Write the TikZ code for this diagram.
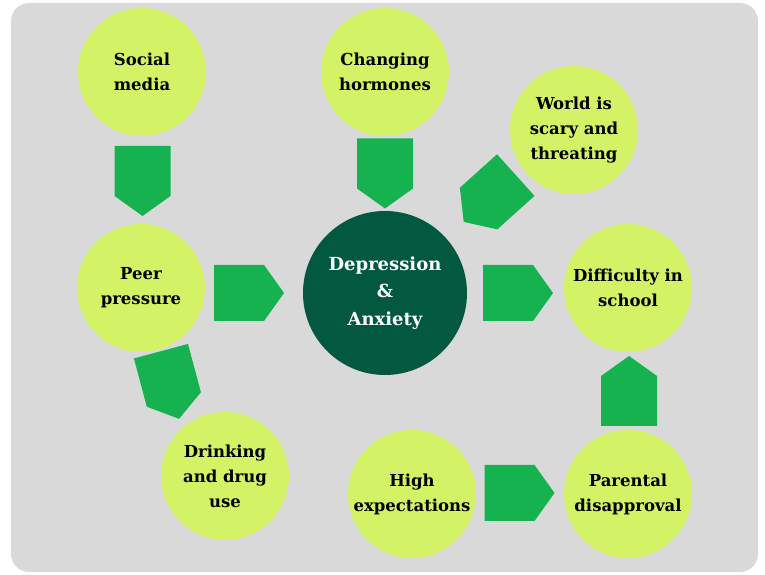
\documentclass[tikz,border=0pt]{standalone}
\usepackage{fontspec}
\setmainfont{DejaVu Serif}

\definecolor{bggray}{RGB}{217,217,217}
\definecolor{limegreen}{RGB}{212,242,102}
\definecolor{arrowgreen}{RGB}{22,178,80}
\definecolor{darkgreen}{RGB}{2,89,64}

\tikzset{
  bubble/.style={circle, fill=limegreen, minimum size=128pt, inner sep=0pt,
    align=center, font=\bfseries\fontsize{16.5}{25}\selectfont},
  core/.style={circle, fill=darkgreen, text=white, minimum size=164pt, inner sep=0pt,
    align=center, font=\bfseries\fontsize{18}{27.5}\selectfont},
  blockarrow/.pic={\fill[arrowgreen] (-35,-28) -- (15,-28) -- (35,0) -- (15,28) -- (-35,28) -- cycle;}
}

\begin{document}
\begin{tikzpicture}[x=1pt,y=1pt]
    % Draw Background Panel
    \useasboundingbox (0,0) rectangle (765,575);
    \fill[bggray, rounded corners=18pt] (11,3) rectangle (758,572);

    % Causes
    % -- top row
    \node[bubble] (social) at (142,503) {Social\\media};
    \node[bubble] (hormones) at (385,503) {Changing\\hormones};
    \node[bubble] (world) at (574,445) {World is\\scary and\\threating};

    % -- middle row
    \node[bubble] (peer) at (141,287) {Peer\\pressure};
    \node[core] (depression) at (385,282) {Depression\\\&\\Anxiety};
    \node[bubble] (school) at (628,287) {Difficulty in\\school};

    % -- bottom row
    \node[bubble] (drinking) at (225,99) {Drinking\\and drug\\use};
    \node[bubble] (expect) at (412,81) {High\\expectations};
    \node[bubble] (parents) at (628,81) {Parental\\disapproval};

    % Block Arrows
    \pic[rotate=-90] at (142.5,394) {blockarrow};  % social -> peer
    \pic[rotate=-90] at (385,401.5) {blockarrow};  % hormones -> depression
    \pic[rotate=222] at (489.75,376.5) {blockarrow}; % world -> depression
    \pic at (249,282) {blockarrow};                % peer -> depression
    \pic at (518,282) {blockarrow};                % depression -> school
    \pic[rotate=-75] at (170,190) {blockarrow};    % peer -> drinking
    \pic at (519.5,82) {blockarrow};               % expectations -> parents
    \pic[rotate=90] at (629,184) {blockarrow};     % parents -> school
\end{tikzpicture}
\end{document}
